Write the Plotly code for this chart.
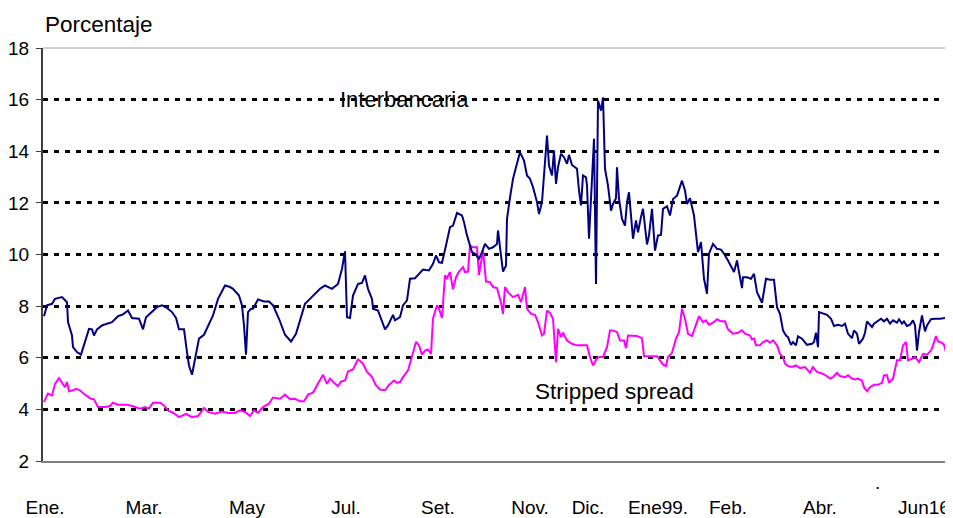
import plotly.graph_objects as go

# Observation index (approx. trading-day position along the period Ene. 1998 - Jun 16 1999)
t_inter = [1, 4, 9, 12, 19, 24, 25, 29, 30, 34, 38, 42, 46, 49, 51, 54, 59, 64, 69, 75, 80, 85, 89, 96, 100, 103,
           109, 114, 119, 123, 129, 133, 136, 141, 144, 146, 149, 152, 156, 161, 165, 170, 175, 182, 187, 190, 196,
           199, 201, 203, 205, 208, 210, 215, 221, 226, 230, 236, 242, 248, 253, 257, 262, 267, 272, 277, 282, 289,
           295, 299, 302, 304, 307, 310, 315, 319, 322, 325, 329, 330, 335, 339, 342, 345, 350, 352, 357, 360, 364,
           367, 372, 380, 386, 390, 393, 396, 399, 403, 407, 410, 414, 419, 421, 424, 429, 432, 436, 439, 442, 446,
           450, 454, 455, 458, 460, 463, 464, 467, 470, 473, 477, 481, 484, 487, 490, 494, 496, 499, 501, 504, 506,
           509, 511, 513, 515, 518, 521, 524, 526, 529, 532, 534, 536, 538, 540, 543, 544, 546, 549, 551, 553, 555,
           558, 560, 562, 565, 568, 570, 573, 574, 576, 579, 582, 584, 586, 588, 590, 593, 595, 598, 600, 604, 606,
           609, 612, 615, 618, 620, 624, 627, 630, 634, 639, 642, 644, 647, 651, 655, 658, 661, 664, 666, 670, 674,
           678, 681, 685, 691, 694, 696, 699, 700, 704, 708, 711, 714, 719, 723, 727, 731, 734, 737, 740, 743, 745,
           748, 750, 753, 755, 759, 762, 764, 769, 771, 773, 775, 776, 780, 784, 788, 791, 795, 799, 802, 805, 809,
           811, 814, 816, 820, 822, 824, 826, 829, 831, 835, 838, 841, 844, 847, 850, 854, 856, 859, 861, 864, 867,
           870, 872, 874, 876, 879, 882, 884, 888, 892, 897, 902]
interbancaria = [7.61, 8.03, 8.09, 8.28, 8.35, 8.15, 7.38, 6.86, 6.41, 6.22, 6.12, 6.67, 7.12, 7.10, 6.86, 7.10, 7.25,
                 7.32, 7.38, 7.61, 7.68, 7.83, 7.54, 7.51, 7.10, 7.57, 7.79, 7.96, 8.03, 7.96, 7.77, 7.54, 7.10, 7.10,
                 6.22, 5.70, 5.34, 5.96, 6.74, 6.89, 7.25, 7.64, 8.28, 8.80, 8.74, 8.67, 8.41, 8.03, 7.25, 6.12, 7.77,
                 7.90, 7.90, 8.26, 8.18, 8.18, 8.03, 7.51, 6.89, 6.63, 6.93, 7.41, 8.09, 8.28, 8.48, 8.67, 8.80, 8.67,
                 8.86, 9.45, 10.12, 7.57, 7.54, 8.41, 8.86, 8.90, 9.19, 8.67, 8.28, 7.90, 7.83, 7.38, 7.10, 7.25, 7.66,
                 7.45, 7.57, 8.03, 8.22, 9.06, 9.08, 9.42, 9.38, 9.64, 9.96, 9.70, 9.68, 10.35, 11.06, 11.12, 11.61,
                 11.51, 11.25, 10.74, 10.09, 10.03, 9.83, 10.09, 10.41, 10.22, 10.28, 10.41, 10.93, 9.96, 9.34, 9.57,
                 11.38, 12.2, 12.93, 13.38, 13.96, 13.64, 13.06, 12.93, 12.61, 12.03, 11.57, 12.03, 13.19, 14.61,
                 13.45, 13.06, 14.03, 12.74, 13.38, 13.90, 13.77, 13.51, 13.86, 13.47, 13.38, 13.32, 12.48, 11.90,
                 13.06, 12.99, 12.67, 10.61, 12.93, 14.48, 8.86, 15.96, 15.57, 16.09, 13.32, 12.67, 11.70, 11.96,
                 12.18, 13.38, 12.15, 11.38, 11.12, 12.03, 12.41, 11.38, 10.61, 11.32, 10.86, 11.45, 11.77, 10.39,
                 10.74, 11.77, 10.15, 10.74, 10.76, 11.77, 11.87, 11.51, 12.15, 12.28, 12.86, 12.48, 11.96, 12.18,
                 11.51, 10.09, 10.48, 9.06, 8.48, 10.03, 10.41, 10.22, 10.19, 10.03, 9.77, 9.32, 9.77, 9.32, 8.70,
                 9.12, 9.12, 9.06, 9.25, 8.54, 8.13, 9.06, 9.02, 9.02, 7.96, 7.70, 7.06, 6.86, 6.80, 6.50, 6.61, 6.48,
                 6.83, 6.74, 6.61, 6.50, 6.54, 6.61, 6.97, 6.41, 7.77, 7.70, 7.66, 7.51, 7.23, 7.28, 7.23, 7.32, 6.93,
                 6.76, 7.06, 6.93, 6.54, 6.74, 6.97, 7.41, 7.32, 7.19, 7.32, 7.45, 7.51, 7.41, 7.51, 7.32, 7.45, 7.36,
                 7.49, 7.32, 7.41, 7.23, 7.28, 7.45, 7.25, 6.28, 6.99, 7.64, 7.02, 7.25, 7.49, 7.51, 7.51, 7.54]

t_spread = [1, 5, 9, 12, 16, 20, 22, 24, 26, 30, 33, 37, 42, 48, 51, 55, 62, 67, 70, 75, 84, 90, 97, 102, 106, 110,
            117, 121, 125, 130, 136, 143, 149, 155, 161, 165, 172, 179, 185, 192, 197, 202, 207, 211, 215, 220, 226,
            230, 237, 242, 247, 252, 257, 261, 265, 270, 275, 280, 284, 287, 291, 295, 298, 302, 305, 310, 315, 320,
            324, 329, 333, 337, 342, 346, 351, 354, 357, 360, 365, 369, 373, 376, 379, 382, 385, 388, 390, 394, 396,
            399, 402, 404, 407, 410, 413, 416, 420, 422, 425, 427, 430, 434, 436, 440, 443, 447, 450, 454, 456, 458,
            460, 462, 465, 470, 475, 478, 480, 482, 484, 488, 492, 495, 499, 501, 504, 507, 510, 511, 513, 515, 518,
            520, 524, 529, 534, 540, 544, 547, 550, 554, 557, 560, 564, 567, 570, 574, 577, 581, 583, 585, 590, 594,
            599, 601, 607, 614, 617, 620, 623, 625, 629, 633, 636, 639, 642, 645, 649, 652, 656, 660, 663, 666, 670,
            674, 678, 682, 685, 690, 695, 699, 702, 707, 709, 711, 713, 717, 720, 724, 727, 730, 734, 737, 740, 742,
            745, 749, 753, 757, 762, 767, 770, 774, 777, 782, 787, 790, 794, 797, 802, 805, 809, 812, 815, 819, 821,
            824, 827, 831, 835, 839, 841, 844, 846, 850, 852, 854, 857, 860, 863, 865, 869, 872, 876, 880, 884, 888,
            890, 893, 895, 899, 901, 903]
stripped_spread = [4.28, 4.61, 4.54, 4.99, 5.21, 4.99, 4.86, 5.06, 4.70, 4.74, 4.80, 4.74, 4.57, 4.41, 4.39, 4.09,
                   4.09, 4.13, 4.26, 4.18, 4.18, 4.12, 4.03, 4.09, 4.03, 4.26, 4.26, 4.15, 3.96, 3.87, 3.70, 3.83,
                   3.70, 3.74, 4.05, 3.90, 3.83, 3.92, 3.86, 3.86, 3.96, 3.90, 3.74, 3.96, 3.87, 4.09, 4.22, 4.46,
                   4.41, 4.57, 4.39, 4.41, 4.31, 4.31, 4.57, 4.65, 4.99, 5.34, 4.99, 5.19, 5.03, 4.90, 5.08, 5.12,
                   5.47, 5.55, 5.94, 5.77, 5.45, 5.25, 4.93, 4.77, 4.74, 4.95, 5.12, 5.03, 5.06, 5.25, 5.51, 6.09,
                   6.61, 6.48, 6.12, 6.28, 6.32, 6.15, 7.51, 8.03, 7.90, 7.54, 9.19, 9.08, 9.32, 8.65, 9.12, 9.34,
                   9.51, 9.32, 9.34, 10.35, 10.28, 10.28, 9.21, 10.15, 8.95, 8.93, 8.74, 8.70, 8.44, 8.13, 7.70, 8.74,
                   8.54, 8.35, 8.44, 8.15, 8.44, 8.74, 7.90, 7.70, 7.66, 7.38, 6.86, 6.93, 7.83, 7.74, 7.51, 6.93,
                   5.83, 7.12, 6.80, 6.97, 6.67, 6.54, 6.48, 6.48, 6.48, 6.03, 5.70, 5.99, 6.03, 6.03, 6.41, 7.06,
                   7.06, 6.99, 6.67, 6.67, 6.37, 6.86, 6.84, 6.84, 6.76, 6.06, 6.06, 6.06, 5.90, 5.73, 5.68, 6.03,
                   6.19, 6.74, 6.99, 7.90, 7.51, 6.93, 6.84, 7.19, 7.61, 7.38, 7.45, 7.28, 7.36, 7.49, 7.41, 7.41,
                   7.10, 6.93, 6.97, 7.06, 6.93, 6.86, 6.71, 6.74, 6.48, 6.48, 6.61, 6.67, 6.58, 6.67, 6.48, 6.15,
                   6.03, 5.77, 5.68, 5.64, 5.70, 5.60, 5.64, 5.42, 5.64, 5.45, 5.42, 5.34, 5.19, 5.25, 5.42, 5.29,
                   5.25, 5.32, 5.19, 5.16, 5.19, 5.12, 4.86, 4.70, 4.86, 4.95, 4.95, 5.03, 5.32, 5.32, 5.03, 5.19,
                   5.57, 5.90, 5.90, 6.48, 6.61, 5.90, 5.96, 6.03, 5.83, 6.15, 6.12, 6.28, 6.48, 6.84, 6.63, 6.58,
                   6.50, 6.22]

tick_pos = [2, 101, 204, 303, 395, 487, 545, 615, 685, 777, 881]
tick_labels = ["Ene.", "Mar.", "May", "Jul.", "Set.", "Nov.", "Dic.", "Ene99.", "Feb.", "Abr.", "Jun16"]
y_ticks = [2, 4, 6, 8, 10, 12, 14, 16, 18]

FONT = "Liberation Sans, Arial, sans-serif"

fig = go.Figure()
fig.add_trace(go.Scatter(x=t_spread, y=stripped_spread, mode="lines", name="Stripped spread",
                         line=dict(color="#FF00FF", width=2), showlegend=False))
fig.add_trace(go.Scatter(x=t_inter, y=interbancaria, mode="lines", name="Interbancaria",
                         line=dict(color="#000080", width=2), showlegend=False))

# the page body adds an 8px offset, so the figure is sized to fit the remaining window
fig.update_layout(
    width=945, height=510,
    margin=dict(l=35, r=6, t=40, b=57),
    paper_bgcolor="white", plot_bgcolor="white",
    font=dict(family=FONT, size=19, color="black"),
    xaxis=dict(range=[0, 904], tickmode="array", tickvals=tick_pos, ticktext=tick_labels,
               showgrid=False, zeroline=False, showline=True, linecolor="#808080", linewidth=2,
               ticks="outside", ticklen=28, tickcolor="rgba(0,0,0,0)", tickfont=dict(size=19),
               automargin=False),
    yaxis=dict(range=[2, 18], tickmode="array", tickvals=y_ticks, showgrid=True,
               gridcolor="black", gridwidth=2.5, griddash="5px,6px", zeroline=False,
               showline=True, linecolor="#404040", linewidth=2,
               ticks="outside", ticklen=5, tickcolor="#404040", tickwidth=1,
               ticklabelstandoff=3, tickfont=dict(size=19), automargin=False),
    shapes=[
        dict(type="line", xref="paper", yref="paper", x0=0, x1=1, y0=1, y1=1,
             line=dict(color="#A0A0A0", width=1), layer="below"),
        dict(type="line", xref="paper", yref="paper", x0=1, x1=1, y0=0, y1=1,
             line=dict(color="#A0A0A0", width=2), layer="below"),
    ],
    annotations=[
        dict(text="Porcentaje", xref="paper", yref="paper", x=0.0, y=1.0, yshift=24,
             xanchor="left", yanchor="middle", showarrow=False, font=dict(size=22.5)),
        dict(text="Interbancaria", x=361, y=16.0, xref="x", yref="y", showarrow=False,
             font=dict(size=22)),
        dict(text="Stripped spread", x=571, y=4.69, xref="x", yref="y", showarrow=False,
             font=dict(size=22.5)),
        dict(text=".", xref="x", yref="paper", x=834, y=0, yshift=-34, showarrow=False,
             font=dict(size=19)),
    ],
)

fig.write_html("out.html")
